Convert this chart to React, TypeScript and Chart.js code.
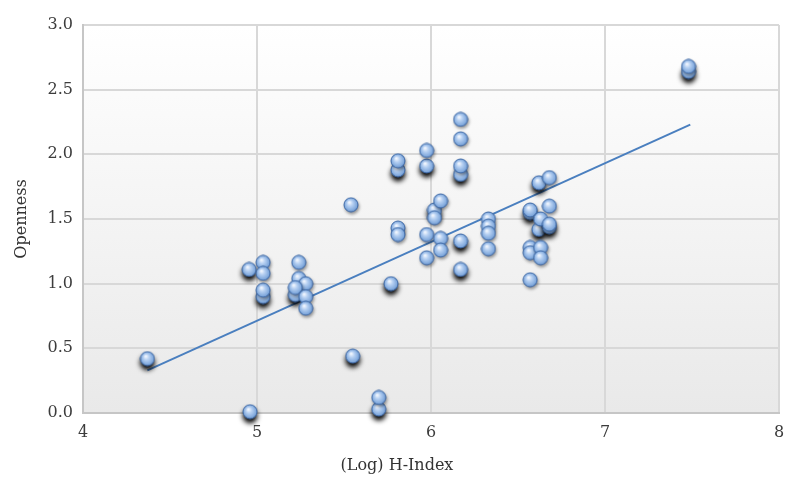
import React, { useEffect, useRef } from "react";
import { Chart, registerables } from "chart.js";

Chart.register(...registerables);

// H-Index (log) values and openness scores, normal markers
const normalX = [
  5.035, 5.035, 5.035,
  5.24, 5.24, 5.28, 5.22, 5.28, 5.28,
  5.54, 5.70,
  5.81, 5.81, 5.81,
  5.975, 5.975, 5.975,
  6.055, 6.02, 6.055, 6.055,
  6.17, 6.17, 6.17,
  6.33, 6.33, 6.33, 6.33,
  6.57, 6.57, 6.57, 6.57,
  6.68, 6.68, 6.63, 6.68, 6.63, 6.63,
  7.48,
];
const normalY = [
  1.165, 1.08, 0.95,
  1.165, 1.04, 1.0, 0.97, 0.9, 0.81,
  1.61, 0.12,
  1.95, 1.43, 1.38,
  2.03, 1.38, 1.2,
  1.64, 1.51, 1.35, 1.26,
  2.27, 2.12, 1.91,
  1.5, 1.445, 1.39, 1.27,
  1.57, 1.28, 1.24, 1.03,
  1.82, 1.6, 1.5, 1.46, 1.28, 1.2,
  2.68,
];

// markers with heavy (stacked) shadows
const stackedX = [4.37, 4.96, 4.955, 5.035, 5.22, 5.55, 5.70, 5.77, 5.81, 5.975, 6.02, 6.17, 6.17, 6.17, 6.57, 6.62, 6.62, 6.68, 7.48];
const stackedY = [0.42, 0.01, 1.11, 0.9, 0.915, 0.44, 0.03, 1.0, 1.88, 1.91, 1.57, 1.845, 1.33, 1.11, 1.55, 1.78, 1.42, 1.44, 2.64];

// linear trend line
const trendX = [4.37, 7.49];
const trendY = [0.33, 2.23];

const yTicks = [0, 0.5, 1, 1.5, 2, 2.5, 3];
const xTicks = [4, 5, 6, 7, 8];

const FONT = "'DejaVu Serif', serif";

function makeSphere(): HTMLCanvasElement {
  const c = document.createElement("canvas");
  c.width = 16;
  c.height = 16;
  const g = c.getContext("2d")!;
  const grad = g.createRadialGradient(6.3, 5.5, 0.5, 8, 8, 7.5);
  grad.addColorStop(0, "#f2f7fe");
  grad.addColorStop(0.35, "#b6d0f2");
  grad.addColorStop(0.8, "#82aadd");
  grad.addColorStop(1, "#5c87c4");
  g.beginPath();
  g.arc(8, 8, 7, 0, Math.PI * 2);
  g.fillStyle = grad;
  g.fill();
  g.lineWidth = 1;
  g.strokeStyle = "#3f6aa8";
  g.stroke();
  return c;
}

const toPts = (xs: number[], ys: number[]) => xs.map((x, i) => ({ x, y: ys[i] }));

export default function App() {
  const ref = useRef<HTMLCanvasElement>(null);

  useEffect(() => {
    const sphere = makeSphere();

    const bgPlugin = {
      id: "bgPlugin",
      beforeDraw(chart: any) {
        const { ctx, chartArea: a } = chart;
        ctx.save();
        const gr = ctx.createLinearGradient(0, a.top, 0, a.bottom);
        gr.addColorStop(0, "#ffffff");
        gr.addColorStop(1, "#e9e9e9");
        ctx.fillStyle = gr;
        ctx.fillRect(a.left, a.top, a.right - a.left, a.bottom - a.top);
        ctx.restore();
      },
      afterDraw(chart: any) {
        const { ctx } = chart;
        ctx.save();
        ctx.font = `16px ${FONT}`;
        ctx.fillStyle = "#333333";
        ctx.textAlign = "center";
        ctx.textBaseline = "middle";
        ctx.fillText("(Log) H-Index", 397, 466);
        ctx.restore();
      },
    };

    const shadowPlugin = {
      id: "shadowPlugin",
      beforeDatasetDraw(chart: any, args: any) {
        const ds = chart.data.datasets[args.index];
        const s = ds.shadowCfg;
        if (!s) return;
        const ctx = chart.ctx;
        ctx.save();
        ctx.shadowColor = s.color;
        ctx.shadowBlur = s.blur;
        ctx.shadowOffsetX = s.dx;
        ctx.shadowOffsetY = s.dy;
      },
      afterDatasetDraw(chart: any, args: any) {
        const ds = chart.data.datasets[args.index];
        if (!ds.shadowCfg) return;
        chart.ctx.restore();
      },
    };

    const chart = new Chart(ref.current!, {
      type: "scatter",
      data: {
        datasets: [
          {
            type: "line",
            label: "trend",
            data: toPts(trendX, trendY),
            borderColor: "#4a7fbf",
            borderWidth: 2,
            pointRadius: 0,
            fill: false,
            order: 3,
            clip: false,
          } as any,
          {
            label: "stacked",
            data: toPts(stackedX, stackedY),
            pointStyle: sphere,
            pointRadius: 7,
            order: 2,
            clip: false,
            shadowCfg: { color: "rgba(0,0,0,1)", blur: 5, dx: 0, dy: 4 },
          } as any,
          {
            label: "points",
            data: toPts(normalX, normalY),
            pointStyle: sphere,
            pointRadius: 7,
            order: 1,
            clip: false,
            shadowCfg: { color: "rgba(0,0,0,0.4)", blur: 3, dx: 1, dy: 2 },
          } as any,
        ],
      },
      options: {
        animation: false,
        responsive: true,
        maintainAspectRatio: false,
        layout: { padding: { top: 25, right: 8, left: 0, bottom: 0 } },
        plugins: {
          legend: { display: false },
          tooltip: { enabled: false },
        },
        scales: {
          x: {
            type: "linear",
            min: xTicks[0],
            max: xTicks[xTicks.length - 1],
            afterBuildTicks: (s: any) => {
              s.ticks = xTicks.map((v) => ({ value: v }));
            },
            afterFit: (s: any) => {
              s.height = 70;
              s.paddingRight = 0;
              s.paddingLeft = 0;
            },
            ticks: {
              padding: 10,
              color: "#3c3c3c",
              font: { family: FONT, size: 16 },
            },
            grid: { color: "#d8d8d8", lineWidth: 2, drawTicks: false },
            border: { color: "#c6c6c6", width: 2 },
          },
          y: {
            type: "linear",
            min: yTicks[0],
            max: yTicks[yTicks.length - 1],
            afterBuildTicks: (s: any) => {
              s.ticks = yTicks.map((v) => ({ value: v }));
            },
            afterFit: (s: any) => {
              s.width = 83;
              s.paddingTop = 0;
              s.paddingBottom = 0;
            },
            ticks: {
              padding: 10,
              color: "#3c3c3c",
              font: { family: FONT, size: 16 },
              callback: (v: any) => Number(v).toFixed(1),
            },
            title: {
              display: true,
              text: "Openness",
              color: "#333333",
              font: { family: FONT, size: 16 },
              padding: { top: 12, bottom: 0 },
            },
            grid: { color: "#d8d8d8", lineWidth: 2, drawTicks: false },
            border: { color: "#c6c6c6", width: 2 },
          },
        },
      },
      plugins: [bgPlugin, shadowPlugin],
    });

    return () => chart.destroy();
  }, []);

  return (
    <div style={{ position: "fixed", left: 0, top: 0, width: 787, height: 483, background: "#fff" }}>
      <canvas ref={ref} />
    </div>
  );
}
